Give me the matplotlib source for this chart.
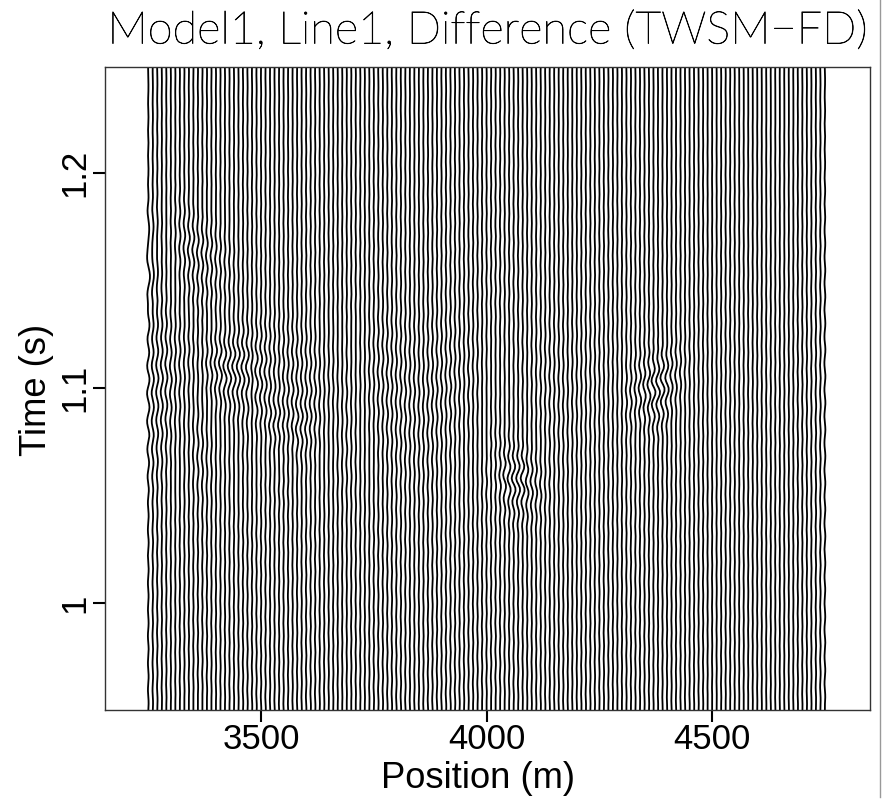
#!/usr/bin/env python3
"""Wiggle display of the TWSM minus FD difference, Model1 Line1"""

import numpy as np
import matplotlib
matplotlib.use("Agg")
import matplotlib.pyplot as plt
import matplotlib.patheffects as pe
from matplotlib.lines import Line2D

W, H = 889, 799

# Trace layout and time axis
first_pos = 3250.0
pos_step = 10.0
n_traces = 151
t_start = 0.95
t_step = 0.0015
n_samples = 201

title = "Model1, Line1, Difference (TWSM\u2212FD)"
xlabel = "Position (m)"
ylabel = "Time (s)"
xticks = [3500, 4000, 4500]
yticks = [1.0, 1.1, 1.2]
yticklabels = ["1", "1.1", "1.2"]

# Background wiggle seen on all traces
bg_shape = [
    0.1, 0.5, 0.8, 0.7, 0.2, -0.4, -0.8, -0.7, -0.2, 0.4,
    0.8, 0.8, 0.3, -0.3, -0.7, -0.8, -0.4, 0.1, 0.6, 0.9,
    0.6, 0.0, -0.6, -0.9, -0.7, -0.1, 0.5, 0.8, 0.6, 0.1,
    -0.5, -0.8, -0.6, -0.1, 0.4, 0.7, 0.7, 0.2, -0.4, -0.8,
    -0.8, -0.3, 0.3, 0.8, 0.9, 0.4, -0.3, -0.8, -0.9, -0.5,
    0.1, 0.7, 1.0, 0.7, 0.0, -0.7, -1.0, -0.7, -0.1, 0.6,
    0.9, 0.8, 0.2, -0.5, -0.9, -0.8, -0.3, 0.4, 0.9, 0.9,
    0.4, -0.3, -0.9, -1.0, -0.5, 0.2, 0.8, 1.0, 0.6, -0.1,
    -0.8, -1.0, -0.7, 0.0, 0.7, 1.1, 0.8, 0.1, -0.7, -1.1,
    -0.9, -0.2, 0.6, 1.1, 1.0, 0.3, -0.5, -1.0, -1.0, -0.4,
    0.4, 1.0, 1.1, 0.5, -0.3, -1.0, -1.1, -0.6, 0.2, 0.9,
    1.1, 0.7, -0.1, -0.8, -1.0, -0.7, 0.0, 0.7, 1.0, 0.7,
    0.1, -0.6, -1.0, -0.8, -0.2, 0.5, 0.9, 0.8, 0.3, -0.4,
    -0.8, -0.8, -0.3, 0.3, 0.8, 0.8, 0.4, -0.2, -0.7, -0.8,
    -0.4, 0.2, 0.7, 0.8, 0.5, -0.1, -0.6, -0.7, -0.5, 0.0,
    0.5, 0.7, 0.5, 0.1, -0.4, -0.7, -0.5, -0.1, 0.4, 0.6,
    0.5, 0.1, -0.3, -0.6, -0.5, -0.2, 0.3, 0.5, 0.5, 0.2,
    -0.2, -0.5, -0.5, -0.2, 0.2, 0.5, 0.5, 0.3, -0.1, -0.4,
    -0.5, -0.3, 0.1, 0.4, 0.5, 0.4, 0.1, -0.2, -0.4, -0.4,
    -0.2, 0.1, 0.3, 0.4, 0.4, 0.2, -0.1, -0.3, -0.4, -0.4,
    -0.2,
]
bg_scale = [
    0.9, 0.7, 0.7, 0.6, 0.6, 0.5, 0.5, 0.6, 0.6, 0.6,
    0.6, 0.7, 0.7, 0.7, 0.6, 0.6, 0.6, 0.6, 0.6, 0.6,
    0.6, 0.7, 0.7, 0.7, 0.7, 0.7, 0.7, 0.6, 0.6, 0.6,
    0.6, 0.6, 0.6, 0.6, 0.6, 0.7, 0.7, 0.7, 0.6, 0.6,
    0.6, 0.6, 0.5, 0.5, 0.5, 0.6, 0.6, 0.6, 0.6, 0.6,
    0.7, 0.7, 0.7, 0.7, 0.7, 0.7, 0.7, 0.7, 0.6, 0.6,
    0.6, 0.6, 0.7, 0.7, 0.7, 0.7, 0.8, 0.8, 0.8, 0.7,
    0.7, 0.7, 0.7, 0.7, 0.7, 0.7, 0.8, 0.8, 0.8, 0.7,
    0.7, 0.7, 0.7, 0.6, 0.6, 0.6, 0.6, 0.6, 0.6, 0.6,
    0.6, 0.6, 0.6, 0.5, 0.5, 0.5, 0.6, 0.6, 0.6, 0.6,
    0.6, 0.6, 0.6, 0.6, 0.5, 0.5, 0.6, 0.6, 0.6, 0.6,
    0.6, 0.6, 0.5, 0.5, 0.5, 0.5, 0.5, 0.5, 0.5, 0.5,
    0.5, 0.5, 0.5, 0.5, 0.4, 0.4, 0.4, 0.5, 0.5, 0.5,
    0.5, 0.4, 0.4, 0.4, 0.4, 0.4, 0.4, 0.4, 0.4, 0.4,
    0.4, 0.4, 0.4, 0.4, 0.5, 0.5, 0.5, 0.5, 0.6, 0.7,
    1.0,
]
bg_shift = [
    0, 0, 1, 1, 2, 2, 3, 3, 4, 4,
    5, 5, 5, 4, 4, 3, 3, 2, 2, 1,
    1, 0, 0, -1, -1, -2, -2, -3, -3, -4,
    -4, -4, -3, -3, -2, -2, -1, -1, 0, 0,
    1, 1, 2, 2, 3, 3, 3, 2, 2, 1,
    1, 0, 0, -1, -1, -2, -2, -3, -3, -3,
    -4, -4, -3, -3, -2, -2, -1, -1, 0, 0,
    1, 1, 2, 2, 3, 3, 4, 4, 4, 3,
    3, 2, 2, 1, 1, 0, 0, -1, -1, -2,
    -2, -3, -3, -3, -2, -2, -1, -1, 0, 0,
    1, 1, 2, 2, 3, 3, 2, 2, 1, 1,
    0, 0, -1, -1, -2, -2, -3, -3, -2, -2,
    -1, -1, 0, 0, 1, 1, 2, 2, 3, 3,
    2, 2, 1, 1, 0, 0, -1, -1, -2, -2,
    -3, -3, -2, -2, -1, -1, 0, 0, 1, 1,
    2,
]

# Broad band across the left two thirds, y 300-470 px
band_shape = [
    0.00, 0.06, 0.14, 0.18, 0.12, -0.02, -0.18, -0.28, -0.24, -0.06,
    0.18, 0.38, 0.40, 0.22, -0.08, -0.40, -0.54, -0.42, -0.08, 0.32,
    0.62, 0.64, 0.32, -0.16, -0.62, -0.80, -0.56, -0.06, 0.46, 0.82,
    0.78, 0.34, -0.28, -0.80, -0.92, -0.54, 0.08, 0.66, 1.00, 0.80,
    0.18, -0.46, -0.86, -0.80, -0.32, 0.24, 0.66, 0.72, 0.38, -0.10,
    -0.50, -0.62, -0.38, 0.02, 0.36, 0.46, 0.28, -0.02, -0.24, -0.28,
    -0.14, 0.04, 0.14, 0.10, 0.00,
]
band_first = 0
band_t0 = 1.043
band_scale = [
    2.2, 2.2, 2.0, 2.0, 2.0, 2.0, 2.0, 2.0, 2.2, 2.2,
    2.2, 2.2, 2.2, 2.2, 2.0, 2.0, 2.0, 2.0, 2.0, 2.0,
    2.0, 2.0, 2.0, 2.0, 2.0, 2.0, 2.0, 2.0, 1.8, 1.8,
    1.8, 1.8, 1.8, 1.8, 1.6, 1.6, 1.6, 1.6, 1.6, 1.4,
    1.4, 1.4, 1.4, 1.4, 1.4, 1.4, 1.2, 1.2, 1.2, 1.2,
    1.2, 1.2, 1.2, 1.2, 1.0, 1.0, 1.0, 1.0, 1.0, 1.0,
    1.0, 1.0, 1.0, 1.0, 1.0, 1.0, 1.0, 1.0, 0.8, 0.8,
    0.8, 0.8, 0.8, 0.8, 0.8, 0.8, 0.8, 0.8, 0.8, 0.8,
    0.8, 0.6, 0.6, 0.6, 0.6, 0.6, 0.6, 0.6, 0.6, 0.6,
    0.4, 0.4, 0.4, 0.4, 0.4, 0.4, 0.2, 0.2, 0.2, 0.2,
    0.2,
]
band_shift = [
    3, 3, 3, 3, 3, 2, 2, 2, 2, 2,
    2, 1, 1, 1, 1, 1, 1, 0, 0, 0,
    0, 0, 0, -1, -1, -1, -1, -1, -1, -1,
    -2, -2, -2, -2, -2, -2, -2, -2, -2, -2,
    -1, -1, -1, -1, -1, 0, 0, 0, 0, 0,
    0, 0, 0, 0, 0, 0, 0, -1, -1, -1,
    -1, -1, -1, -1, -1, -1, -1, 0, 0, 0,
    0, 1, 1, 1, 1, 1, 1, 1, 1, 1,
    0, 0, 0, 0, -1, -1, -1, -1, -1, -1,
    -1, -1, -1, 0, 0, 0, 0, 0, 1, 1,
    1,
]

# Left strong event, centre near 3330 m / 1.10 s
left_shape = [
    0.00, -0.04, -0.10, -0.12, -0.05, 0.10, 0.22, 0.24, 0.10, -0.14,
    -0.36, -0.42, -0.24, 0.12, 0.48, 0.66, 0.46, -0.02, -0.56, -0.90,
    -0.72, -0.14, 0.56, 1.00, 0.82, 0.20, -0.52, -0.88, -0.68, -0.12,
    0.40, 0.62, 0.42, 0.04, -0.24, -0.32, -0.18, 0.00, 0.10, 0.12,
    0.05, 0.00,
]
left_first = 6
left_t0 = 1.070
left_scale = [
    0.4, 0.6, 0.8, 1.1, 1.4, 1.8, 2.2, 2.6, 3.0, 3.4,
    3.8, 4.2, 4.4, 4.4, 4.2, 4.0, 3.8, 3.4, 3.2, 3.2,
    3.0, 2.8, 2.6, 2.4, 2.0, 1.8, 1.5, 1.3, 1.0, 0.8,
    0.7, 0.6, 0.5, 0.4, 0.3, 0.2, 0.1,
]
left_shift = [
    2, 2, 2, 2, 2, 1, 1, 1, 1, 1,
    1, 0, 0, 0, 0, 0, 0, 0, -1, -1,
    -1, -1, -1, -1, -2, -2, -2, -2, -2, -2,
    -3, -3, -3, -3, -3, -3, -3,
]

# Second event below and to the right of the first
lower_shape = [
    0.00, 0.05, 0.12, 0.10, -0.04, -0.22, -0.30, -0.18, 0.10, 0.38,
    0.50, 0.32, -0.10, -0.56, -0.74, -0.46, 0.14, 0.74, 1.00, 0.66,
    -0.06, -0.78, -0.96, -0.56, 0.08, 0.62, 0.72, 0.38, -0.10, -0.42,
    -0.42, -0.16, 0.12, 0.24, 0.14, -0.02, -0.08, -0.04, 0.00,
]
lower_first = 22
lower_t0 = 1.051
lower_scale = [
    0.4, 0.8, 1.2, 1.6, 2.0, 2.4, 2.8, 3.0, 3.2, 3.2,
    3.0, 2.8, 2.4, 2.0, 1.6, 1.2, 0.8, 0.4,
]
lower_shift = [
    1, 1, 1, 1, 1, 0, 0, 0, 0, 0,
    0, -1, -1, -1, -1, -1, -2, -2,
]

# Upper event dipping to the right, y 210-300 px
upper_shape = [
    0.00, 0.08, 0.12, 0.06, -0.12, -0.26, -0.22, 0.02, 0.30, 0.44,
    0.28, -0.10, -0.50, -0.62, -0.30, 0.26, 0.72, 0.82, 0.36, -0.32,
    -0.88, -1.00, -0.44, 0.34, 0.88, 0.86, 0.28, -0.40, -0.74, -0.54,
    -0.04, 0.40, 0.50, 0.24, -0.12, -0.32, -0.24, 0.00, 0.16, 0.14,
    0.02, -0.06, -0.04, 0.00,
]
upper_first = 3
upper_t0 = 1.1305
upper_scale = [
    0.4, 0.6, 0.9, 1.1, 1.4, 1.6, 1.9, 2.1, 2.2, 2.2,
    2.1, 2.0, 1.8, 1.5, 1.3, 1.0, 0.8, 0.5, 0.3,
]
upper_shift = [
    5, 5, 4, 4, 3, 3, 2, 2, 1, 1,
    0, 0, -1, -1, -2, -2, -3, -3, -4,
]

# Centre event near 4060 m / 1.056 s
centre_shape = [
    0.00, -0.06, -0.14, -0.12, 0.06, 0.26, 0.34, 0.14, -0.24, -0.56,
    -0.54, -0.10, 0.50, 0.92, 0.78, 0.10, -0.70, -1.00, -0.62, 0.14,
    0.72, 0.78, 0.28, -0.30, -0.56, -0.34, 0.06, 0.28, 0.20, 0.00,
    -0.10, -0.08, 0.00,
]
centre_first = 74
centre_t0 = 1.0323
centre_scale = [
    0.5, 0.9, 1.4, 2.0, 2.8, 3.6, 4.4, 4.8, 4.8, 4.4,
    3.6, 2.8, 2.2, 1.5, 0.9, 0.5,
]
centre_shift = [
    2, 2, 1, 1, 1, 1, 0, 0, 0, 0,
    -1, -1, -1, -2, -2, -2,
]

# Right event near 4390 m / 1.10 s
right_shape = [
    0.00, 0.06, 0.12, 0.06, -0.12, -0.30, -0.28, 0.00, 0.38, 0.58,
    0.36, -0.16, -0.66, -0.78, -0.30, 0.40, 0.92, 0.90, 0.24, -0.56,
    -1.00, -0.74, -0.02, 0.58, 0.72, 0.36, -0.14, -0.44, -0.34, -0.02,
    0.20, 0.18, 0.04, -0.04, 0.00,
]
right_first = 105
right_t0 = 1.073
right_scale = [
    0.5, 0.9, 1.4, 2.0, 2.8, 3.6, 4.2, 4.6, 4.6, 4.2,
    3.4, 2.6, 1.9, 1.3, 0.8, 0.4,
]
right_shift = [
    -4, -3, -3, -2, -2, -1, -1, 0, 0, 1,
    1, 2, 2, 3, 3, 4,
]

# Slow bow on the first traces, y 180-350 px
edge_shape = [
    0.00, 0.10, 0.24, 0.38, 0.50, 0.54, 0.46, 0.26, 0.00, -0.28,
    -0.54, -0.70, -0.72, -0.56, -0.26, 0.12, 0.50, 0.82, 0.98, 1.00,
    0.82, 0.48, 0.06, -0.36, -0.72, -0.92, -0.94, -0.76, -0.44, -0.06,
    0.30, 0.58, 0.72, 0.68, 0.50, 0.24, 0.00, -0.20, -0.32, -0.34,
    -0.26, -0.14, -0.04, 0.00,
]
edge_first = 0
edge_t0 = 1.124
edge_scale = [3.0, 2.0, 1.0, 0.4]
edge_shift = [0, 1, 2, 3]

events = [
    (band_shape, band_first, band_t0, band_scale, band_shift),
    (left_shape, left_first, left_t0, left_scale, left_shift),
    (lower_shape, lower_first, lower_t0, lower_scale, lower_shift),
    (upper_shape, upper_first, upper_t0, upper_scale, upper_shift),
    (centre_shape, centre_first, centre_t0, centre_scale, centre_shift),
    (right_shape, right_first, right_t0, right_scale, right_shift),
    (edge_shape, edge_first, edge_t0, edge_scale, edge_shift),
]


def add_event(disp, shape, first, t0, scale, shift):
    shape = np.array(shape)
    start = int(round((t0 - t_start) / t_step))
    for k, (amp, lag) in enumerate(zip(scale, shift)):
        idx = start + lag + np.arange(len(shape))
        keep = (idx >= 0) & (idx < n_samples)
        disp[first + k, idx[keep]] += amp * shape[keep]


def main():
    times = t_start + t_step * np.arange(n_samples)
    positions = first_pos + pos_step * np.arange(n_traces)

    disp = np.zeros((n_traces, n_samples))
    add_event(disp, bg_shape, 0, t_start, bg_scale, bg_shift)
    for shape, first, t0, scale, shift in events:
        add_event(disp, shape, first, t0, scale, shift)

    plt.rcParams['font.family'] = ['Liberation Sans', 'DejaVu Sans']
    fig = plt.figure(figsize=(W / 100, H / 100), dpi=100)
    ax = fig.add_axes([104.7 / W, 1 - 710 / H, (870 - 104.7) / W, (710 - 66.7) / H])

    for i in range(n_traces):
        ax.plot(positions[i] + disp[i], times, color='black', lw=1.3,
                solid_joinstyle='round', clip_on=True)

    ax.set_xlim(3153.4, 4850)
    ax.set_ylim(0.9502, 1.2494)
    ax.set_xticks(xticks)
    ax.set_yticks(yticks)
    ax.set_yticklabels(yticklabels, rotation=90, va='center')
    ax.tick_params(axis='both', direction='out', length=8.8, width=1.5, labelsize=25, pad=0.5)
    for spine in ax.spines.values():
        spine.set_linewidth(1.0)
        spine.set_color('#333333')

    fig.text(478.5 / W, 1 - 779 / H, xlabel, fontsize=26.2, ha='center', va='center')
    fig.text(36 / W, 1 - 390 / H, ylabel, fontsize=26.2, ha='center', va='center', rotation=90)
    title_text = fig.text(487.5 / W, 1 - 31 / H, title, fontsize=32.5, ha='center', va='center',
                          family=['Lato', 'DejaVu Sans'], weight='light', color='black')
    title_text.set_path_effects([pe.withStroke(linewidth=0.5, foreground='black')])

    # Grey rule down the right side of the page
    fig.add_artist(Line2D([879.5 / W, 879.5 / W], [0.002, 1], color='#999999', lw=1.0))

    fig.savefig('out.png', dpi=100)
    plt.close(fig)


if __name__ == "__main__":
    main()
